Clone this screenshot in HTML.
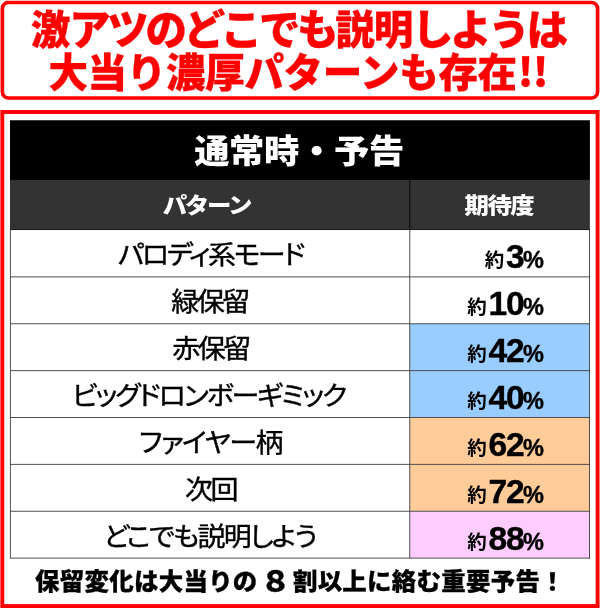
<!DOCTYPE html>
<html lang="ja">
<head>
<meta charset="utf-8">
<title>通常時・予告</title>
<style>
*{margin:0;padding:0;box-sizing:border-box;}
html,body{width:600px;height:608px;background:#fff;overflow:hidden;}
body{position:relative;font-family:"Liberation Sans","Noto Sans CJK JP",sans-serif;color:#000;}
svg.bg{position:absolute;left:0;top:0;width:600px;height:608px;display:block;}
.t1,.t2{position:absolute;left:0;width:600px;text-align:center;color:#f00;font-family:"Noto Sans CJK JP",sans-serif;font-weight:900;font-size:39.5px;line-height:44px;letter-spacing:-1.15px;white-space:nowrap;-webkit-text-stroke:0.3px #f00;}
.t1{top:4.5px;left:-2.2px;font-size:41.5px;letter-spacing:-3.3px;}
.t1 b,.t2 b{font-weight:900;font-size:39.5px;letter-spacing:-1.15px;position:relative;top:-0.6px;}
.t2{top:48.3px;letter-spacing:-0.3px;left:-2px;}
.t2 span{margin-left:1px;letter-spacing:-0.8px;}
.hd{position:absolute;left:10px;top:120px;width:579px;height:60px;color:#fff;text-align:center;font-family:"Noto Sans CJK JP",sans-serif;font-weight:900;font-size:33px;line-height:58px;letter-spacing:-0.3px;}
.hd span{display:inline-block;transform:scaleX(1.07);transform-origin:50% 50%;}
.sub{position:absolute;left:10px;top:180px;width:579px;height:50px;}
.sub div{position:absolute;top:0;height:50px;line-height:48px;color:#fff;font-family:"Noto Sans CJK JP",sans-serif;font-weight:900;font-size:22px;letter-spacing:-0.9px;text-align:center;}
.sub span{display:inline-block;transform:scaleX(1.11);position:relative;top:-1px;}
.sub .c1 span{left:-3.4px;letter-spacing:-2px;}
.sub .c2 span{left:-0.4px;letter-spacing:-1.45px;}
.sub .c1{left:0;width:400px;}
.sub .c2{left:400px;width:179px;}
.row{position:absolute;left:10px;width:579px;height:47px;}
.row .n{position:absolute;left:1px;top:2.1px;width:399px;height:46px;text-align:center;font-family:"Noto Sans CJK JP",sans-serif;font-weight:400;font-size:26.7px;line-height:44px;letter-spacing:-2.4px;font-feature-settings:"palt";white-space:nowrap;transform:scaleX(1.05);-webkit-text-stroke:0.4px #000;}
.row .v{position:absolute;left:400px;top:0.4px;width:178px;height:46px;text-align:right;padding-right:44px;white-space:nowrap;line-height:53px;}
.v .y{font-family:"Noto Sans CJK JP",sans-serif;font-size:19.5px;font-weight:700;margin-right:1.8px;position:relative;top:-0.8px;left:0.4px;}
.v .d{font-family:"Liberation Sans",sans-serif;font-weight:700;font-size:33.6px;letter-spacing:-1.2px;-webkit-text-stroke:0.4px #000;position:relative;top:0.3px;left:0.4px;}
.v .p{font-family:"Liberation Sans",sans-serif;font-weight:700;font-size:23.5px;-webkit-text-stroke:0.4px #000;position:relative;top:0.8px;}
.ft{position:absolute;left:0;top:564.7px;width:600px;text-align:center;font-family:"Noto Sans CJK JP",sans-serif;font-weight:900;font-size:23.5px;line-height:30px;letter-spacing:0.27px;white-space:nowrap;transform:scaleX(1.04);-webkit-text-stroke:0.3px #000;}
.ft span{display:inline-block;margin:0 1.6px 0 2.6px;font-size:29.5px;line-height:20px;position:relative;top:2.6px;}
</style>
</head>
<body>
<svg class="bg" width="600" height="608" viewBox="0 0 600 608">
<rect x="2.35" y="2.45" width="595.25" height="95.6" rx="6.2" ry="6.2" fill="#fff" stroke="#f00" stroke-width="3.65"/>
<rect x="2.3" y="112" width="595.3" height="494.05" fill="#fff" stroke="#f00" stroke-width="3.9"/>
<rect x="10" y="120.25" width="579.9" height="60" fill="#000"/>
<rect x="10" y="180" width="579.9" height="50" fill="#333"/>
<rect x="409.75" y="323.75" width="179.9" height="93.75" fill="#9cf"/>
<rect x="409.75" y="417.5" width="179.9" height="93.75" fill="#fc9"/>
<rect x="409.75" y="511.25" width="179.9" height="46.9" fill="#fcf"/>
<g stroke="#444" stroke-width="0.94" fill="none">
<path d="M10 276.875H590M10 323.75H590M10 370.625H590M10 417.5H590M10 464.375H590M10 511.25H590M10 558.125H590"/>
<path d="M10.4 230V558.6M589.5 230V558.6M409.75 230V558.1"/>
</g>
<path d="M409.75 180V230" stroke="#000" stroke-width="0.94"/>
<path d="M10 229.55H589.9" stroke="#1a1a1a" stroke-width="0.9"/>
</svg>
<div class="t1"><b>激</b>アツのどこでも<b>説明</b>しようは</div>
<div class="t2">大当り濃厚パターンも存在<span>!!</span></div>
<div class="hd"><span>通常時・予告</span></div>
<div class="sub"><div class="c1"><span>パターン</span></div><div class="c2"><span>期待度</span></div></div>
<div class="row" style="top:229px"><div class="n" style="letter-spacing:-2.25px">パロディ系モード</div><div class="v"><span class="y">約</span><span class="d">3</span><span class="p">%</span></div></div>
<div class="row" style="top:276px"><div class="n" style="left:0.3px">緑保留</div><div class="v"><span class="y">約</span><span class="d">10</span><span class="p">%</span></div></div>
<div class="row" style="top:323px"><div class="n">赤保留</div><div class="v"><span class="y">約</span><span class="d">42</span><span class="p">%</span></div></div>
<div class="row" style="top:370px"><div class="n" style="letter-spacing:-2.02px;left:-0.8px">ビッグドロンボーギミック</div><div class="v"><span class="y">約</span><span class="d">40</span><span class="p">%</span></div></div>
<div class="row" style="top:417px"><div class="n" style="letter-spacing:-1.45px;left:0.7px">ファイヤー柄</div><div class="v"><span class="y">約</span><span class="d">62</span><span class="p">%</span></div></div>
<div class="row" style="top:464px"><div class="n">次回</div><div class="v"><span class="y">約</span><span class="d">72</span><span class="p">%</span></div></div>
<div class="row" style="top:511px"><div class="n" style="letter-spacing:-1.77px;left:-0.3px">どこでも説明しよう</div><div class="v"><span class="y">約</span><span class="d">88</span><span class="p">%</span></div></div>
<div class="ft">保留変化は大当りの<span>８</span>割以上に絡む重要予告！</div>
</body>
</html>
